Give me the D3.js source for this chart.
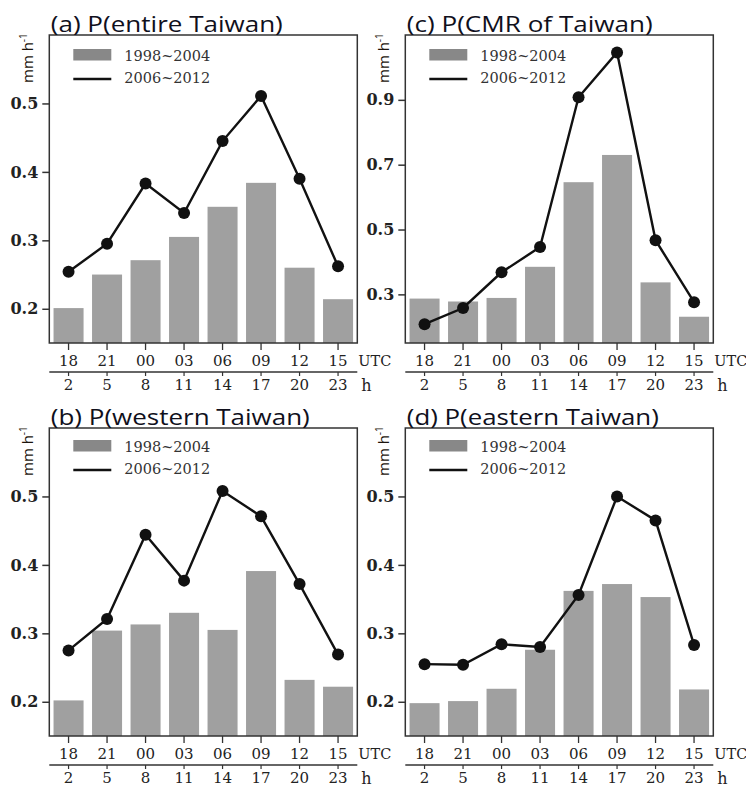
<!DOCTYPE html>
<html>
<head>
<meta charset="utf-8">
<script src="https://cdn.jsdelivr.net/npm/d3@7"></script>
<style>
  html, body { margin: 0; padding: 0; background: #fff; }
  svg { display: block; }
</style>
</head>
<body>
<svg id="chart" width="746" height="787"></svg>
<script>
// Diurnal cycle categories (UTC hour and local hour)
const utcHours = ["18", "21", "00", "03", "06", "09", "12", "15"];
const localHours = ["2", "5", "8", "11", "14", "17", "20", "23"];
const seriesNames = ["1998~2004", "2006~2012"];

// (a) entire Taiwan
const barsEntire = [0.201, 0.250, 0.271, 0.305, 0.349, 0.384, 0.260, 0.214];
const lineEntire = [0.254, 0.295, 0.383, 0.340, 0.445, 0.511, 0.390, 0.262];
// (b) western Taiwan
const barsWestern = [0.202, 0.304, 0.313, 0.330, 0.305, 0.391, 0.232, 0.222];
const lineWestern = [0.275, 0.321, 0.444, 0.377, 0.508, 0.471, 0.372, 0.269];
// (c) CMR of Taiwan
const barsCMR = [0.287, 0.278, 0.289, 0.385, 0.646, 0.730, 0.337, 0.231];
const lineCMR = [0.208, 0.258, 0.368, 0.446, 0.908, 1.046, 0.467, 0.276];
// (d) eastern Taiwan
const barsEastern = [0.198, 0.201, 0.219, 0.276, 0.362, 0.372, 0.353, 0.218];
const lineEastern = [0.255, 0.254, 0.284, 0.280, 0.356, 0.500, 0.465, 0.283];

// Y axis ranges and ticks
const domainSmall = [0.15, 0.6];
const ticksSmall = [0.2, 0.3, 0.4, 0.5];
const domainCMR = [0.15, 1.1];
const ticksCMR = [0.3, 0.5, 0.7, 0.9];

const titles = ["(a) P(entire Taiwan)", "(b) P(western Taiwan)", "(c) P(CMR of Taiwan)", "(d) P(eastern Taiwan)"];

const panels = [
  { title: titles[0], bars: barsEntire, line: lineEntire, domain: domainSmall, ticks: ticksSmall,
    left: 49.3, top: 35, titleW: 232, legendDy: 0 },
  { title: titles[1], bars: barsWestern, line: lineWestern, domain: domainSmall, ticks: ticksSmall,
    left: 49.3, top: 428, titleW: 259, legendDy: -2 },
  { title: titles[2], bars: barsCMR, line: lineCMR, domain: domainCMR, ticks: ticksCMR,
    left: 405.3, top: 35, titleW: 246, legendDy: 0 },
  { title: titles[3], bars: barsEastern, line: lineEastern, domain: domainSmall, ticks: ticksSmall,
    left: 405.3, top: 428, titleW: 252, legendDy: -2 }
];

const W = 308, H = 308;
const svg = d3.select("#chart");
const serif = "'DejaVu Serif', serif";
const sans = "'Open Sans', 'Noto Sans', sans-serif";

panels.forEach(p => {
  const g = svg.append("g");
  const x = d3.scaleBand().domain(utcHours).range([p.left, p.left + W])
    .paddingInner(0.22).paddingOuter(0.11);
  const y = d3.scaleLinear().domain(p.domain).range([p.top + H, p.top]);
  const bottom = p.top + H;

  // bars: 1998~2004
  g.selectAll("rect.bar").data(p.bars).enter().append("rect")
    .attr("class", "bar")
    .attr("x", (d, i) => x(utcHours[i]))
    .attr("width", x.bandwidth())
    .attr("y", d => y(d))
    .attr("height", d => bottom - y(d))
    .attr("fill", "#a0a0a0");

  // line + markers: 2006~2012
  const cx = (d, i) => x(utcHours[i]) + x.bandwidth() / 2;
  g.append("path").datum(p.line)
    .attr("d", d3.line().x(cx).y(d => y(d)))
    .attr("fill", "none").attr("stroke", "#111").attr("stroke-width", 2.4);
  g.selectAll("circle").data(p.line).enter().append("circle")
    .attr("cx", cx).attr("cy", d => y(d)).attr("r", 6).attr("fill", "#111");

  // frame
  g.append("rect").attr("x", p.left).attr("y", p.top).attr("width", W).attr("height", H)
    .attr("fill", "none").attr("stroke", "#333").attr("stroke-width", 1.5);

  // left axis
  const yAxis = d3.axisLeft(y).tickValues(p.ticks).tickFormat(d3.format(".1f"))
    .tickSize(7).tickPadding(4);
  const ya = g.append("g").attr("transform", `translate(${p.left},0)`).call(yAxis);
  ya.select(".domain").remove();
  ya.selectAll(".tick line").attr("stroke", "#333").attr("stroke-width", 1.5);
  ya.selectAll(".tick text").attr("font-family", serif).attr("font-size", 16)
    .attr("font-weight", "bold").attr("fill", "#222");

  // bottom axis: UTC hours
  const xAxis = d3.axisBottom(x).tickSize(7).tickPadding(5);
  const xa = g.append("g").attr("transform", `translate(0,${bottom})`).call(xAxis);
  xa.select(".domain").remove();
  xa.selectAll(".tick line").attr("stroke", "#333").attr("stroke-width", 1.3);
  xa.selectAll(".tick text").attr("font-family", serif).attr("font-size", 15)
    .attr("fill", "#222");

  // second axis: local hours
  const xLocal = d3.scaleBand().domain(localHours).range([p.left, p.left + W])
    .paddingInner(0.22).paddingOuter(0.11);
  const la = g.append("g").attr("transform", `translate(0,${bottom + 29})`)
    .call(d3.axisBottom(xLocal).tickSize(4).tickPadding(3).tickSizeOuter(0));
  la.select(".domain").attr("stroke", "#333").attr("stroke-width", 1.5)
    .attr("d", `M${p.left},0H${p.left + W}`);
  la.selectAll(".tick line").attr("stroke", "#333").attr("stroke-width", 1.2);
  la.selectAll(".tick text").attr("font-family", serif).attr("font-size", 15)
    .attr("fill", "#222");

  g.append("text").attr("x", p.left + W + 1).attr("y", bottom + 23)
    .attr("font-family", serif).attr("font-size", 14.5).attr("fill", "#222").text("UTC");
  g.append("text").attr("x", p.left + W + 4).attr("y", bottom + 48)
    .attr("font-family", serif).attr("font-size", 16).attr("fill", "#222").text("h");

  // title
  g.append("text").attr("x", p.left + 1.5).attr("y", p.top - 3)
    .attr("font-family", sans).attr("font-size", 21).attr("fill", "#10101c")
    .attr("textLength", p.titleW).attr("lengthAdjust", "spacingAndGlyphs")
    .text(p.title);

  // unit label
  const ul = g.append("text")
    .attr("transform", `translate(${p.left - 16.5},${p.top + 48}) rotate(-90)`)
    .attr("font-family", sans).attr("font-size", 15).attr("fill", "#1c140c");
  ul.append("tspan").text("mm h");
  ul.append("tspan").attr("font-size", 10).attr("dy", -6).text("-1");

  // legend
  const ly = p.top + p.legendDy;
  g.append("rect").attr("x", p.left + 24).attr("y", ly + 14).attr("width", 38).attr("height", 11.5)
    .attr("fill", "#888");
  g.append("line").attr("x1", p.left + 24).attr("x2", p.left + 62)
    .attr("y1", ly + 44).attr("y2", ly + 44).attr("stroke", "#111").attr("stroke-width", 2.6);
  g.selectAll("text.leg").data(seriesNames).enter().append("text")
    .attr("class", "leg")
    .attr("x", p.left + 75).attr("y", (d, i) => ly + 25.5 + i * 22)
    .attr("font-family", serif).attr("font-size", 14.5).attr("fill", "#333")
    .text(d => d);
});
</script>
</body>
</html>
